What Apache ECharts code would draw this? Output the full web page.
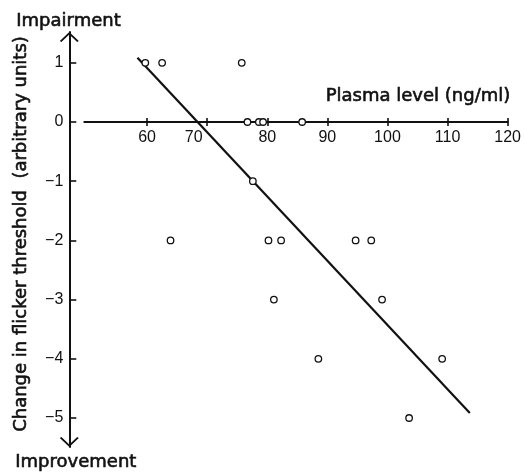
<!DOCTYPE html>
<html>
<head>
<meta charset="utf-8">
<script src="https://cdn.jsdelivr.net/npm/echarts@6/dist/echarts.min.js"></script>
<style>
html,body{margin:0;padding:0;background:#fff;}
#c{width:524px;height:472px;}
</style>
</head>
<body>
<div id="c"></div>
<script>
// Data
var plasmaLevel = [59.7, 62.5, 75.75, 76.7, 78.6, 79.3, 85.8, 77.6, 63.9, 80.2, 82.3, 94.7, 97.3, 81.1, 99.1, 88.5, 109.1, 103.6];
var flickerChange = [1, 1, 1, 0, 0, 0, 0, -1, -2, -2, -2, -2, -2, -3, -3, -4, -4, -5];
var fitLineX = [58.4, 113.7];
var fitLineY = [1.086, -4.916];
var xTicks = [60, 70, 80, 90, 100, 110, 120];
var yTicks = [-5, -4, -3, -2, -1, 0, 1];
var xTitle = 'Plasma level (ng/ml)';
var yTitle = 'Change in flicker threshold  (arbitrary units)';
var topNote = 'Impairment';
var bottomNote = 'Improvement';

var points = plasmaLevel.map(function (x, i) { return [x, flickerChange[i]]; });
var fitLine = fitLineX.map(function (x, i) { return [x, fitLineY[i]]; });

var ink = '#111';
var numFont = 'Liberation Sans, Arial, sans-serif';
var txtFont = 'DejaVu Sans, sans-serif';
var chevron = 'path://M0,9 L9.5,0 L19,9 L17.4,10 L9.5,2.6 L1.6,10 Z';

var W = 524, H = 472;
var gridTop = 32, gridBottom = 25;
var yMin = -5.49, yMax = 1.52;
var gridH = H - gridTop - gridBottom;
// raise the x axis from the grid bottom to the y = 0 level
var xAxisOffset = -gridH * (0 - yMin) / (yMax - yMin);

function titleText(txt, x, y, rot) {
  return {type: 'text', x: x, y: y, rotation: rot || 0,
    style: {text: txt, fontSize: 18, fontWeight: 'normal', fontFamily: txtFont, fill: ink,
      stroke: ink, lineWidth: 0.6, align: 'center', verticalAlign: 'middle'}};
}

var chart = echarts.init(document.getElementById('c'), null, {renderer: 'canvas'});
chart.setOption({
  animation: false,
  backgroundColor: '#fff',
  grid: {left: 84.3, right: 15, top: gridTop, bottom: gridBottom, containLabel: false},
  xAxis: [{
    type: 'value', min: 49.55, max: 120, position: 'bottom', offset: xAxisOffset,
    splitLine: {show: false},
    axisLine: {show: true, onZero: false, lineStyle: {color: ink, width: 2}},
    axisTick: {show: true, inside: false, length: 4, customValues: xTicks, lineStyle: {color: ink, width: 1.6}},
    axisLabel: {show: true, customValues: xTicks, margin: 8, fontSize: 16, fontFamily: numFont, color: ink,
      formatter: function (v) { return v === 70 ? '{s|' + v + '}' : '{n|' + v + '}'; },
      rich: {
        s: {fontSize: 16, fontFamily: numFont, color: ink, padding: [0, 27, 0, 0]},
        n: {fontSize: 16, fontFamily: numFont, color: ink}
      }}
  }, {
    type: 'value', min: 49.55, max: 120, position: 'bottom', offset: xAxisOffset,
    splitLine: {show: false},
    axisLine: {show: false, onZero: false},
    axisTick: {show: true, inside: true, length: 4, customValues: xTicks, lineStyle: {color: ink, width: 1.6}},
    axisLabel: {show: false}
  }],
  yAxis: {
    type: 'value', min: yMin, max: yMax, position: 'left', offset: 15,
    splitLine: {show: false},
    axisLine: {show: true, onZero: false, lineStyle: {color: ink, width: 2},
      symbol: [chevron, chevron], symbolSize: [19, 10], symbolOffset: [5, -5]},
    axisTick: {show: true, inside: true, length: 7, customValues: yTicks, lineStyle: {color: ink, width: 1.6}},
    axisLabel: {show: true, customValues: yTicks, margin: 6, fontSize: 16, fontFamily: numFont, color: ink,
      formatter: function (v) { return v < 0 ? '\u2212' + Math.abs(v) : String(v); }}
  },
  series: [{
    type: 'line', data: fitLine, symbol: 'none', z: 2,
    lineStyle: {color: ink, width: 2.2}
  }, {
    type: 'scatter', data: points, symbol: 'circle', symbolSize: 6.5, z: 5,
    itemStyle: {color: '#fff', borderColor: ink, borderWidth: 1.3, opacity: 1}
  }],
  graphic: [
    titleText(topNote, 68.5, 21),
    titleText(bottomNote, 75.8, 462.5),
    titleText(xTitle, 418, 96.3),
    titleText(yTitle, 21.5, 234, Math.PI / 2)
  ]
});
</script>
</body>
</html>
